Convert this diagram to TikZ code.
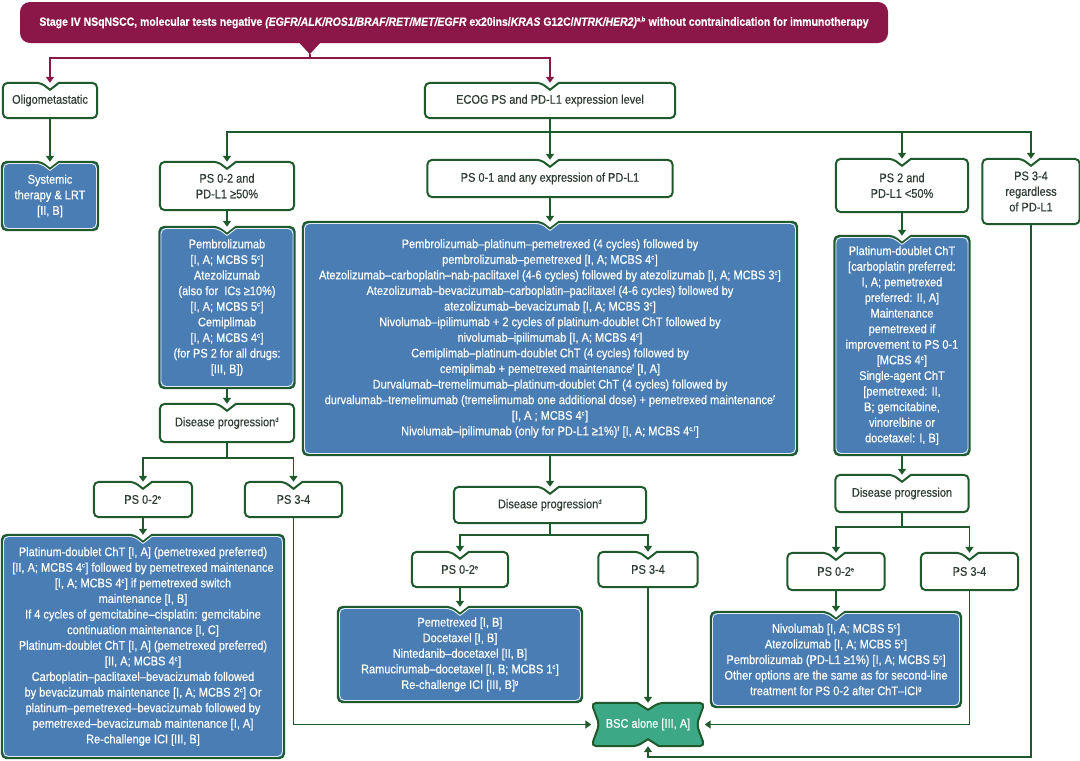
\documentclass[tikz,border=0pt]{standalone}
\usepackage{fontspec}
\setmainfont[FakeStretch=0.88,FakeBold=0.4]{Liberation Sans}
\usetikzlibrary{arrows.meta,backgrounds}

\definecolor{maroon}{HTML}{8A1747}
\definecolor{dkgreen}{HTML}{1E5A2C}
\definecolor{boxblue}{HTML}{4A7DB3}
\definecolor{bscgreen}{HTML}{3DA886}
\definecolor{txtgray}{HTML}{2F3D35}

\newcommand{\boxfont}{\fontsize{12.5}{15.6}\selectfont}
\newcommand{\fn}[1]{\textsuperscript{\fontsize{6.5}{6.5}\selectfont #1}}
% outline of a box with a notch at the top, #2 = inset
\newcommand{\notchpath}[2]{%
  ([shift={(#2,0)}]#1.west) [rounded corners=5pt]
  -- ([shift={(#2,#2)}]#1.north west)
  -- ([shift={(-9,#2)}]#1.north) [sharp corners]
  -- ([shift={(0,7+#2)}]#1.north)
  -- ([shift={(9,#2)}]#1.north) [rounded corners=5pt]
  -- ([shift={(-#2,#2)}]#1.north east)
  -- ([shift={(-#2,-#2)}]#1.south east)
  -- ([shift={(#2,-#2)}]#1.south west)
  -- cycle}

\begin{document}
\begin{tikzpicture}[x=1pt, y=-1pt,
base/.style={inner sep=0pt, align=center, font=\boxfont}, % text only, outline drawn later
wbox/.style={base, text=txtgray}, % white decision boxes
bbox/.style={base, text=white}, % blue treatment boxes
wshape/.style={draw=dkgreen, fill=white, line width=2pt},
bshape/.style={draw=dkgreen, fill=boxblue, line width=2pt},
arr/.style={dkgreen, line width=1.8pt, -{Triangle[length=6pt,width=8pt]}},
marr/.style={arr, maroon}
]

\useasboundingbox (0,0) rectangle (1080,761);

% top banner
\node[base, fill=maroon, text=white, rounded corners=10pt, minimum width=868, minimum height=41, font=\fontsize{11.9}{14}\selectfont\bfseries] (banner) at (454,22.5)
 {Stage IV NSqNSCC, molecular tests negative \textit{(EGFR/ALK/ROS1/BRAF/RET/MET/EGFR} ex20ins/\textit{KRAS} G12C/\textit{NTRK/HER2)}\fn{a,b} without contraindication for immunotherapy};
\fill[maroon] ([shift={(279,-1)}]banner.south west) -- ++(11,12) -- ++(11,-12) -- cycle;
\coordinate (bantip) at ([shift={(290,11)}]banner.south west);

% first level
\node[wbox, minimum width=94, minimum height=35] (olig) at (50,100.5) {Oligometastatic};
\node[wbox, minimum width=250, minimum height=35] (ecog) at (550,100.5) {ECOG PS and PD-L1 expression level};
\node[bbox, minimum width=96, minimum height=68] (sys) at (50,196) {Systemic\\therapy \& LRT\\{}[II, B]};

% PD-L1 >= 50%
\node[wbox, minimum width=134, minimum height=48] (ps50) at (227,186) {PS 0-2 and\\PD-L1 ≥50\%};
\node[bbox, minimum width=135, minimum height=161] (pembro) at (227,307.5)
 {Pembrolizumab\\{}[I, A; MCBS 5\fn{c}]\\Atezolizumab\\(also for ~ICs ≥10\%)\\{}[I, A; MCBS 5\fn{c}]\\Cemiplimab\\{}[I, A; MCBS 4\fn{c}]\\(for PS 2 for all drugs:\\{}[III, B])};
\node[wbox, minimum width=134, minimum height=38] (dp1) at (227,423) {Disease progression\fn{d}};
\node[wbox, minimum width=98, minimum height=35] (ps02a) at (143,499.5) {PS 0-2\fn{e}};
\node[wbox, minimum width=97, minimum height=35] (ps34a) at (293.5,499.5) {PS 3-4};
\node[bbox, minimum width=282, minimum height=223] (chtbox) at (143,646.5)
 {Platinum-doublet ChT [I, A] (pemetrexed preferred)\\{}[II, A; MCBS 4\fn{c}] followed by pemetrexed maintenance\\{}[I, A; MCBS 4\fn{c}] if pemetrexed switch\\maintenance [I, B]\\If 4 cycles of gemcitabine–cisplatin: gemcitabine\\continuation maintenance [I, C]\\Platinum-doublet ChT [I, A] (pemetrexed preferred)\\{}[II, A; MCBS 4\fn{c}]\\Carboplatin–paclitaxel–bevacizumab followed\\by bevacizumab maintenance [I, A; MCBS 2\fn{c}] Or\\platinum–pemetrexed–bevacizumab followed by\\pemetrexed–bevacizumab maintenance [I, A]\\Re-challenge ICI [III, B]};

% PS 0-1, any PD-L1
\node[wbox, minimum width=245, minimum height=37] (ps01) at (550,178.5) {PS 0-1 and any expression of PD-L1};
\node[bbox, minimum width=494, minimum height=233] (combo) at (550,338.5)
 {Pembrolizumab–platinum–pemetrexed (4 cycles) followed by\\pembrolizumab–pemetrexed [I, A; MCBS 4\fn{c}]\\Atezolizumab–carboplatin–nab-paclitaxel (4-6 cycles) followed by atezolizumab [I, A; MCBS 3\fn{c}]\\Atezolizumab–bevacizumab–carboplatin–paclitaxel (4-6 cycles) followed by\\atezolizumab–bevacizumab [I, A; MCBS 3\fn{c}]\\Nivolumab–ipilimumab + 2 cycles of platinum-doublet ChT followed by\\nivolumab–ipilimumab [I, A; MCBS 4\fn{c}]\\Cemiplimab–platinum-doublet ChT (4 cycles) followed by\\cemiplimab + pemetrexed maintenance\fn{f} [I, A]\\Durvalumab–tremelimumab–platinum-doublet ChT (4 cycles) followed by\\durvalumab–tremelimumab (tremelimumab one additional dose) + pemetrexed maintenance\fn{f}\\{}[I, A ; MCBS 4\fn{c}]\\Nivolumab–ipilimumab (only for PD-L1 ≥1\%)\fn{f} [I, A; MCBS 4\fn{c,f}]};
\node[wbox, minimum width=192, minimum height=36] (dp2) at (550,505) {Disease progression\fn{d}};
\node[wbox, minimum width=96, minimum height=35] (ps02b) at (460,569.5) {PS 0-2\fn{e}};
\node[wbox, minimum width=99, minimum height=35] (ps34b) at (648,569.5) {PS 3-4};
\node[bbox, minimum width=244, minimum height=95] (second) at (460,654.5)
 {Pemetrexed [I, B]\\Docetaxel [I, B]\\Nintedanib–docetaxel [II, B]\\Ramucirumab–docetaxel [I, B; MCBS 1\fn{c}]\\Re-challenge ICI [III, B]\fn{g}};
\node[base, text=white, minimum width=113, minimum height=43] (bsc) at (648,724.5) {BSC alone [III, A]};

% PS 2, PD-L1 < 50%
\node[wbox, minimum width=132, minimum height=53] (ps2) at (902,185.5) {PS 2 and\\PD-L1 <50\%};
\node[wbox, minimum width=97, minimum height=65] (ps34r) at (1031,191.5) {PS 3-4\\regardless\\of PD-L1};
\node[bbox, minimum width=135, minimum height=219] (platbox) at (902,345.5)
 {Platinum-doublet ChT\\{}[carboplatin preferred:\\I, A; pemetrexed\\preferred: II, A]\\Maintenance\\pemetrexed if\\improvement to PS 0-1\\{}[MCBS 4\fn{c}]\\Single-agent ChT\\{}[pemetrexed: II,\\B; gemcitabine,\\vinorelbine or\\docetaxel: I, B]};
\node[wbox, minimum width=133, minimum height=37] (dp3) at (902,493.5) {Disease progression};
\node[wbox, minimum width=97, minimum height=37] (ps02c) at (836,571.5) {PS 0-2\fn{e}};
\node[wbox, minimum width=97, minimum height=37] (ps34c) at (969.5,571.5) {PS 3-4};
\node[bbox, minimum width=250, minimum height=95] (iobox) at (836,659.5)
 {Nivolumab [I, A; MCBS 5\fn{c}]\\Atezolizumab [I, A; MCBS 5\fn{c}]\\Pembrolizumab (PD-L1 ≥1\%) [I, A; MCBS 5\fn{c}]\\Other options are the same as for second-line\\treatment for PS 0-2 after ChT–ICI\fn{g}};

% box outlines behind the text
\begin{scope}[on background layer]
\foreach \n in {olig,ecog,ps50,dp1,ps02a,ps34a,ps01,dp2,ps02b,ps34b,ps2,ps34r,dp3,ps02c,ps34c}
  {\draw[wshape] \notchpath{\n}{0};}
\foreach \n in {sys,pembro,chtbox,combo,second,platbox,iobox}{
  \draw[bshape] \notchpath{\n}{0};
  \draw[white!85!boxblue, line width=0.9pt] \notchpath{\n}{1.7};
}
\draw[draw=dkgreen, fill=bscgreen, line width=2pt]
  ([shift={(-11,0)}]bsc.north) [rounded corners=5pt] -- (bsc.north west) -- ([shift={(8,0)}]bsc.west)
  -- (bsc.south west) -- ([shift={(-11,0)}]bsc.south) [sharp corners] -- ([shift={(0,-7)}]bsc.south)
  -- ([shift={(11,0)}]bsc.south) [rounded corners=5pt] -- (bsc.south east) -- ([shift={(-8,0)}]bsc.east)
  -- (bsc.north east) -- ([shift={(11,0)}]bsc.north) [sharp corners] -- ([shift={(0,7)}]bsc.north) -- cycle;
\end{scope}

% connectors
\draw[marr] (bantip) -- ++(0,4) -| (olig.north);
\draw[marr] (bantip) -- ++(0,4) -| (ecog.north);
\draw[arr] (olig.south) -- (sys.north);
\foreach \t in {ps50,ps01,ps2,ps34r}
  \draw[arr] (ecog.south) -- ++(0,14) -| (\t.north);
\draw[arr] (ps50.south) -- (pembro.north);
\draw[arr] (pembro.south) -- (dp1.north);
\foreach \t in {ps02a,ps34a}
  \draw[arr] (dp1.south) -- ++(0,16) -| (\t.north);
\draw[arr] (ps02a.south) -- (chtbox.north);
\draw[arr] (ps01.south) -- (combo.north);
\draw[arr] (combo.south) -- (dp2.north);
\foreach \t in {ps02b,ps34b}
  \draw[arr] (dp2.south) -- ++(0,12) -| (\t.north);
\draw[arr] (ps02b.south) -- (second.north);
\draw[arr] (ps2.south) -- (platbox.north);
\draw[arr] (platbox.south) -- (dp3.north);
\foreach \t in {ps02c,ps34c}
  \draw[arr] (dp3.south) -- ++(0,15) -| (\t.north);
\draw[arr] (ps02c.south) -- (iobox.north);
% to best supportive care
\draw[arr] (ps34a.south) |- (bsc.west);
\draw[arr] (ps34b.south) -- (bsc.north);
\draw[arr] (ps34c.south) |- (bsc.east);
\draw[arr] (ps34r.south) -- ++(0,533) -| (bsc.south);

\end{tikzpicture}
\end{document}
